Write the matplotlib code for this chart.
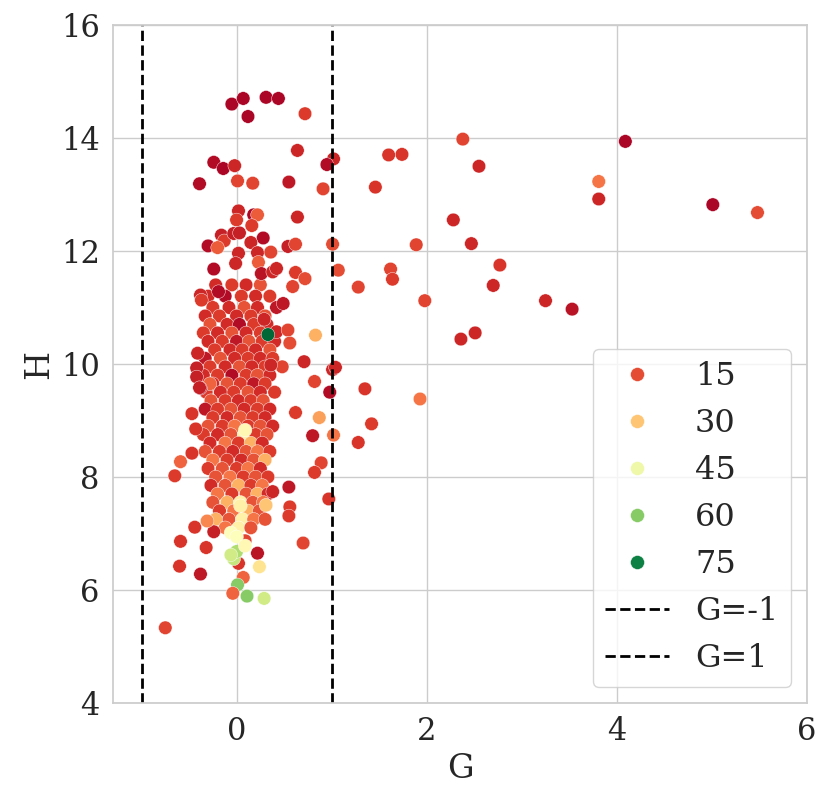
import matplotlib
matplotlib.use("Agg")
import numpy as np
import pandas as pd
import matplotlib.pyplot as plt
from matplotlib.lines import Line2D
import seaborn as sns

# punkty odstajace (G, H, kolor)
g_outer = [-0.05, 0.07, 0.31, 0.44, 0.12, 0.72, 0.64, 1.02, 0.95, -0.24, -0.14, -0.02,
           0.01, 0.17, -0.39, 0.55, 0.91, 1.46, 0.02, 0.0, 0.18, 0.22, 0.16, 0.64,
           -0.16, -0.13, -0.03, 0.03, 0.28, 0.15, -0.3, -0.2, 0.54, 0.62, 1.01,
           0.02, 0.22, 0.23, 0.36, -0.01, 0.26, 0.38, 0.42, 0.62, 0.72, 0.59,
           1.07, 1.28, 0.49, 0.29, 0.42, 0.54, 0.56, 0.83, 0.71, 1.01, 1.04,
           0.48, 0.36, -0.41, -0.38, -0.37, -0.24, -0.19,
           2.38, 4.09, 1.6, 1.74, 2.55, 3.81, 3.81, 5.01, 5.48, 2.28, 1.89, 2.47, 2.77,
           1.62, 1.64, 2.7, 1.98, 3.25, 3.53, 2.51, 2.36, 1.35, 1.93, 1.42, 1.28, 1.02,
           0.82, 0.98, 0.62, 0.87, 0.8, 0.89, 0.82, 0.97, 0.7, 0.55, 0.56, 0.55, 0.38,
           0.22, 0.24, 0.07, 0.01, -0.04, 0.11, 0.29, -0.75, -0.6, -0.38, -0.59, -0.32,
           0.02, -0.03, 0.0, -0.06, -0.44, -0.24, -0.31, 0.09, -0.65, -0.59, -0.47, -0.43,
           -0.47, -0.28, -0.38, 0.09, 0.04, 0.31, -0.06, 0.0, 0.09, -0.42, -0.42, -0.39,
           0.33]
h_outer = [14.6, 14.7, 14.72, 14.7, 14.38, 14.43, 13.78, 13.63, 13.53, 13.57, 13.46, 13.51,
           13.24, 13.2, 13.19, 13.22, 13.1, 13.13, 12.71, 12.55, 12.64, 12.64, 12.45, 12.6,
           12.28, 12.18, 12.31, 12.32, 12.23, 12.15, 12.09, 12.06, 12.08, 12.12, 12.12,
           11.96, 11.97, 11.8, 11.98, 11.78, 11.6, 11.63, 11.69, 11.62, 11.51, 11.37,
           11.66, 11.36, 11.07, 10.79, 10.57, 10.6, 10.37, 10.51, 10.04, 9.9, 9.94,
           9.95, 9.98, 10.19, 11.22, 11.13, 11.68, 11.28,
           13.98, 13.94, 13.7, 13.71, 13.5, 13.23, 12.92, 12.82, 12.68, 12.55, 12.11, 12.13, 11.75,
           11.68, 11.5, 11.39, 11.12, 11.12, 10.97, 10.55, 10.44, 9.56, 9.38, 8.94, 8.61, 8.74,
           9.69, 9.5, 9.14, 9.05, 8.73, 8.25, 8.08, 7.61, 6.83, 7.82, 7.47, 7.31, 7.74,
           6.65, 6.41, 6.22, 6.09, 5.94, 5.89, 5.85, 5.33, 6.42, 6.28, 6.86, 6.75,
           6.47, 6.55, 6.68, 6.62, 7.11, 7.03, 7.22, 6.87, 8.02, 8.27, 8.42, 8.85,
           9.12, 9.65, 9.57, 8.83, 7.49, 7.5, 7.01, 6.94, 6.78, 9.93, 9.77, 9.58,
           10.52]
c_outer = [5, 5, 5, 5, 5, 13, 10, 10, 6, 6, 5, 10,
           14, 14, 6, 8, 14, 12, 10, 13, 5, 17, 13, 10,
           9, 13, 9, 9, 6, 10, 6, 17, 9, 14, 15,
           10, 10, 17, 14, 10, 7, 10, 10, 13, 15, 14,
           15, 14, 8, 10, 10, 14, 15, 27, 10, 10, 10,
           14, 10, 10, 10, 13, 6, 6,
           14, 5, 12, 12, 10, 20, 10, 5, 15, 10, 14, 10, 12,
           14, 13, 10, 14, 10, 7, 10, 10, 12, 20, 13, 12, 20,
           14, 6, 13, 25, 8, 14, 13, 12, 14, 8, 13, 13, 10,
           7, 35, 18, 60, 18, 60, 50, 14, 12, 8, 12, 12,
           12, 52, 55, 50, 12, 9, 22, 14, 13, 18, 12, 12,
           12, 18, 6, 40, 38, 30, 42, 42, 40, 9, 9, 9,
           79]

# gesta chmura punktow wokol G=0
g_core = [-0.22, -0.05, 0.1, 0.25,
          -0.3, -0.12, 0.05, 0.2, 0.35,
          -0.25, -0.08, 0.08, 0.22, 0.42,
          -0.33, -0.18, 0.0, 0.15, 0.3,
          -0.28, -0.1, 0.03, 0.18, 0.32,
          -0.35, -0.2, -0.05, 0.1, 0.25,
          -0.3, -0.15, 0.0, 0.13, 0.27, 0.4,
          -0.23, -0.07, 0.06, 0.2, 0.35,
          -0.33, -0.17, -0.02, 0.12, 0.25, 0.38,
          -0.28, -0.12, 0.03, 0.16, 0.3,
          -0.35, -0.2, -0.05, 0.1, 0.22, 0.35,
          -0.25, -0.1, 0.04, 0.18, 0.3,
          -0.32, -0.17, -0.03, 0.12, 0.25, 0.4,
          -0.27, -0.12, 0.02, 0.15, 0.28,
          -0.33, -0.2, -0.06, 0.08, 0.22, 0.35,
          -0.25, -0.1, 0.04, 0.17, 0.3,
          -0.3, -0.15, -0.02, 0.12, 0.25, 0.38,
          -0.35, -0.2, -0.06, 0.08, 0.2, 0.32,
          -0.28, -0.12, 0.02, 0.15, 0.27,
          -0.33, -0.18, -0.04, 0.1, 0.22, 0.35,
          -0.25, -0.1, 0.05, 0.18, 0.3,
          -0.3, -0.15, 0.0, 0.12, 0.25,
          -0.22, -0.07, 0.07, 0.2, 0.33,
          -0.27, -0.12, 0.02, 0.15, 0.27,
          -0.2, -0.05, 0.1, 0.22, 0.33,
          -0.25, -0.1, 0.04, 0.17, 0.28,
          -0.18, -0.03, 0.12, 0.24,
          -0.22, -0.08, 0.06, 0.18, 0.3,
          -0.12, 0.02, 0.15]
h_core = [11.4, 11.4, 11.4, 11.4,
          11.2, 11.2, 11.2, 11.2, 11.2,
          11.0, 11.0, 11.0, 11.0, 11.0,
          10.85, 10.85, 10.85, 10.85, 10.85,
          10.7, 10.7, 10.7, 10.7, 10.7,
          10.55, 10.55, 10.55, 10.55, 10.55,
          10.4, 10.4, 10.4, 10.4, 10.4, 10.4,
          10.25, 10.25, 10.25, 10.25, 10.25,
          10.1, 10.1, 10.1, 10.1, 10.1, 10.1,
          9.95, 9.95, 9.95, 9.95, 9.95,
          9.8, 9.8, 9.8, 9.8, 9.8, 9.8,
          9.65, 9.65, 9.65, 9.65, 9.65,
          9.5, 9.5, 9.5, 9.5, 9.5, 9.5,
          9.35, 9.35, 9.35, 9.35, 9.35,
          9.2, 9.2, 9.2, 9.2, 9.2, 9.2,
          9.05, 9.05, 9.05, 9.05, 9.05,
          8.9, 8.9, 8.9, 8.9, 8.9, 8.9,
          8.75, 8.75, 8.75, 8.75, 8.75, 8.75,
          8.6, 8.6, 8.6, 8.6, 8.6,
          8.45, 8.45, 8.45, 8.45, 8.45, 8.45,
          8.3, 8.3, 8.3, 8.3, 8.3,
          8.15, 8.15, 8.15, 8.15, 8.15,
          8.0, 8.0, 8.0, 8.0, 8.0,
          7.85, 7.85, 7.85, 7.85, 7.85,
          7.7, 7.7, 7.7, 7.7, 7.7,
          7.55, 7.55, 7.55, 7.55, 7.55,
          7.4, 7.4, 7.4, 7.4,
          7.25, 7.25, 7.25, 7.25, 7.25,
          7.1, 7.1, 7.1]
c_core = [11, 13, 11, 16,
          11, 6, 13, 11, 13,
          13, 11, 16, 11, 8,
          11, 13, 11, 13, 16,
          16, 11, 6, 13, 11,
          13, 11, 16, 11, 13,
          11, 13, 8, 16, 13, 11,
          13, 11, 13, 11, 16,
          8, 16, 11, 13, 11, 13,
          13, 11, 16, 11, 13,
          11, 13, 6, 13, 16, 11,
          11, 16, 13, 8, 13,
          13, 11, 13, 16, 11, 13,
          16, 13, 11, 13, 16,
          8, 13, 16, 11, 13, 11,
          13, 11, 16, 13, 11,
          16, 13, 20, 13, 16, 11,
          13, 11, 16, 38, 13, 16,
          11, 20, 13, 27, 11,
          16, 13, 11, 16, 20, 13,
          20, 13, 11, 16, 27,
          13, 16, 13, 20, 11,
          16, 20, 13, 16, 13,
          11, 16, 27, 13, 20,
          20, 13, 16, 27, 11,
          16, 27, 38, 16, 20,
          13, 20, 27, 16,
          27, 16, 38, 20, 16,
          20, 38, 16]

legend_levels = [15, 30, 45, 60, 75]
hue_range = (4, 79)

df = pd.DataFrame({
    "G": g_core + g_outer,
    "H": h_core + h_outer,
    "c": c_core + c_outer,
})

sns.set_theme(style="whitegrid")
plt.rcParams["font.family"] = ["DejaVu Serif"]

fig = plt.figure(figsize=(8.31, 8.07), dpi=100)
ax = fig.add_axes([0.136, 0.129, 0.835, 0.840])

sns.scatterplot(data=df, x="G", y="H", hue="c", palette="RdYlGn",
                hue_norm=hue_range, s=95, edgecolor="white", linewidth=0.3,
                legend=False, ax=ax)

# granice G
l1 = ax.axvline(-1, color="black", linestyle="--", linewidth=2, label="G=-1")
l2 = ax.axvline(1, color="black", linestyle="--", linewidth=2, label="G=1")

cmap = plt.get_cmap("RdYlGn")
norm = plt.Normalize(*hue_range)
handles = [Line2D([], [], linestyle="", marker="o", markersize=10,
                  markerfacecolor=cmap(norm(v)), markeredgecolor="white",
                  markeredgewidth=0.3) for v in legend_levels]
labels = [str(v) for v in legend_levels]
handles += [l1, l2]
labels += ["G=-1", "G=1"]
ax.legend(handles, labels, loc="lower right", fontsize=23)

ax.set_xlim(-1.3, 6)
ax.set_ylim(4, 16)
ax.set_xticks([0, 2, 4, 6])
ax.set_yticks([4, 6, 8, 10, 12, 14, 16])
ax.tick_params(labelsize=22)
ax.set_xlabel("G", fontsize=24)
ax.set_ylabel("H", fontsize=24)

fig.savefig("out.png", dpi=100)
